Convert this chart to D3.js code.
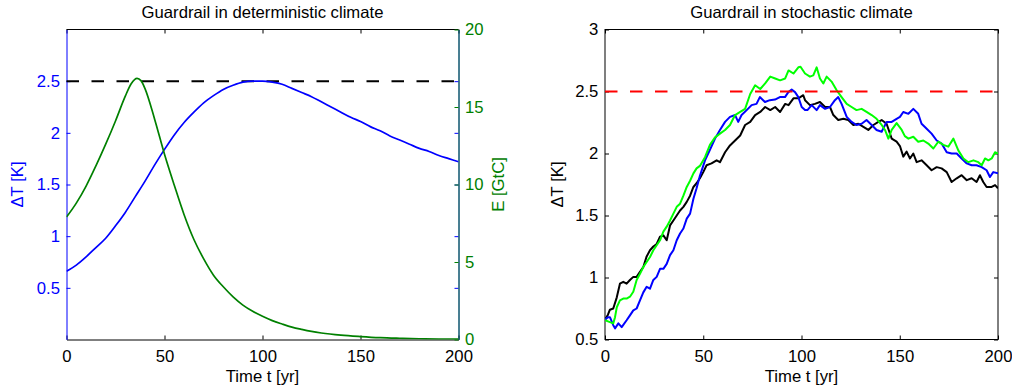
<!DOCTYPE html>
<html>
<head>
<meta charset="utf-8">
<script src="https://cdn.jsdelivr.net/npm/d3@7"></script>
<style>
  html, body { margin: 0; padding: 0; background: #fff; }
  svg { display: block; }
  text { font-family: "Liberation Sans", Arial, Helvetica, sans-serif; }
</style>
</head>
<body>
<svg id="chart" width="1012" height="391"></svg>
<script>
// ---------------- DATA ----------------
const xTicks = [0, 50, 100, 150, 200];
const dtTicksLeft = [0.5, 1, 1.5, 2, 2.5];
const eTicks = [0, 5, 10, 15, 20];
const dtTicksRight = [0.5, 1, 1.5, 2, 2.5, 3];
const guardrail = 2.5;

// Deterministic climate: temperature anomaly ΔT [K] vs time
const detTime = [0,5,10,15,20,25,30,35,40,45,50,55,60,65,70,75,80,85,90,95,100,105,110,115,120,125,130,135,140,145,150,155,160,165,170,175,180,185,190,195,200];
const detDT   = [0.66,0.72,0.80,0.89,0.98,1.10,1.23,1.38,1.53,1.69,1.84,1.98,2.10,2.20,2.29,2.36,2.42,2.46,2.49,2.50,2.50,2.49,2.47,2.43,2.39,2.35,2.30,2.25,2.20,2.15,2.11,2.06,2.02,1.97,1.93,1.89,1.85,1.82,1.78,1.75,1.72];

// Deterministic climate: emissions E [GtC] vs time
const emTime = [0,5,10,15,20,25,30,33,36,38,40,45,50,55,60,65,70,75,80,85,90,95,100,105,110,115,120,125,130,140,150,160,170,180,190,200];
const emE    = [7.9,8.8,9.9,11.2,12.6,14.1,15.7,16.5,16.85,16.7,16.2,14.2,11.95,9.95,8.05,6.45,5.2,4.15,3.4,2.75,2.22,1.82,1.5,1.22,1.0,0.8,0.65,0.52,0.42,0.28,0.19,0.12,0.08,0.05,0.03,0.02];

// Stochastic climate: three realisations [t, ΔT]
const stochBlack = [[0,0.66],[1.5,0.70],[2.5,0.74],[4.2,0.75],[6,0.84],[7.6,0.95],[9.3,0.965],[11,0.95],[12.7,0.98],[14.4,1.005],[16.1,1.005],[17.8,1.045],[19.5,1.085],[21.2,1.17],[22.9,1.22],[24.6,1.25],[26.3,1.27],[28,1.33],[29.7,1.34],[31.4,1.30],[33.1,1.42],[34.8,1.46],[36.5,1.50],[38.2,1.54],[39.9,1.57],[41.6,1.61],[43.3,1.66],[45,1.73],[46.6,1.76],[48.3,1.80],[50,1.85],[51.7,1.905],[54.2,1.92],[56.8,1.945],[58.5,1.93],[61.1,2.01],[63.6,2.065],[66.2,2.105],[68.8,2.145],[71.3,2.23],[73.9,2.255],[76.4,2.31],[79,2.335],[81.5,2.375],[84.1,2.35],[86.6,2.375],[89.1,2.335],[91.7,2.40],[93.4,2.39],[95.9,2.445],[98.4,2.445],[100.9,2.47],[101.8,2.43],[104.3,2.39],[106.8,2.40],[109.4,2.415],[112,2.375],[114.5,2.375],[116.2,2.31],[118.7,2.27],[121.3,2.28],[123.8,2.27],[126.4,2.23],[128.9,2.24],[131.5,2.215],[134,2.19],[136.6,2.23],[139.1,2.255],[140.8,2.27],[143.3,2.24],[145.9,2.12],[148.4,2.095],[150.1,2.06],[151.8,1.975],[153.5,2.015],[155.2,1.96],[156.9,2.0],[158.6,1.93],[161.1,1.945],[163.7,1.905],[166.2,1.865],[168.8,1.89],[171.3,1.88],[173.9,1.85],[176.4,1.77],[179,1.80],[181.5,1.825],[184.1,1.785],[186.6,1.80],[189.1,1.77],[190.8,1.825],[192.5,1.77],[194.2,1.73],[196.8,1.73],[198.5,1.745],[200,1.72]];

const stochBlue = [[0,0.66],[1.5,0.68],[2.5,0.68],[4.2,0.615],[5.1,0.59],[6.8,0.63],[8.5,0.60],[11,0.655],[12.7,0.695],[14.4,0.735],[16.1,0.75],[17.8,0.815],[19.5,0.88],[21.2,0.925],[22.9,0.91],[24.6,0.98],[26.3,1.005],[28,1.07],[29.7,1.07],[31.4,1.11],[33.1,1.18],[34.8,1.22],[36.5,1.30],[38.2,1.355],[39.9,1.395],[41.6,1.475],[43.3,1.515],[45,1.635],[46.6,1.72],[48.3,1.82],[50.9,1.945],[53.4,2.03],[56,2.12],[58.5,2.19],[61.1,2.255],[63.6,2.295],[66.2,2.31],[67.8,2.255],[69.5,2.31],[72.1,2.35],[74.6,2.39],[77.1,2.40],[78.8,2.455],[81.4,2.415],[83.9,2.43],[86.5,2.435],[89,2.455],[91.6,2.455],[93.3,2.495],[95,2.515],[96.7,2.495],[98.4,2.455],[100.1,2.375],[101.8,2.35],[103,2.35],[105.2,2.39],[107.7,2.35],[109.4,2.39],[112,2.36],[114.5,2.375],[117,2.43],[118.7,2.455],[120.4,2.40],[123,2.295],[125.5,2.255],[128,2.23],[130.6,2.24],[133.1,2.27],[135.7,2.23],[138.2,2.19],[140.8,2.175],[143.3,2.255],[145.9,2.255],[148.4,2.28],[150.1,2.295],[151.8,2.335],[154.4,2.32],[156.9,2.36],[159.4,2.32],[161.1,2.24],[163.7,2.20],[166.2,2.16],[168.8,2.105],[171.3,2.08],[173.9,2.01],[176.4,2.0],[179,2.0],[181.5,1.96],[184.1,1.92],[186.6,1.905],[189.1,1.905],[191.7,1.89],[194.2,1.865],[195.9,1.81],[197.6,1.85],[200,1.84]];

const stochGreen = [[0,0.655],[2.5,0.64],[4.2,0.63],[5.1,0.68],[6,0.76],[7.6,0.815],[9.3,0.83],[11,0.83],[12.7,0.845],[14.4,0.885],[16.1,0.98],[17.8,1.03],[19.5,1.085],[21.2,1.125],[22.9,1.165],[24.6,1.22],[26.3,1.26],[28,1.30],[29.7,1.37],[31.4,1.41],[33.1,1.46],[34.8,1.515],[36.5,1.57],[38.2,1.595],[39.9,1.66],[41.6,1.73],[43.3,1.78],[45,1.84],[46.6,1.88],[48.3,1.90],[50.9,1.97],[53.4,2.07],[56,2.13],[58.5,2.16],[61.1,2.19],[63.6,2.23],[66.2,2.31],[68.8,2.335],[71.3,2.36],[73.9,2.48],[76.4,2.55],[79,2.52],[81.5,2.565],[84.1,2.62],[86.6,2.605],[89.1,2.59],[91.7,2.605],[93.4,2.67],[95.9,2.645],[98.4,2.695],[99.5,2.70],[101.8,2.645],[104.3,2.62],[106,2.63],[107.7,2.695],[109.4,2.605],[111.1,2.565],[112.8,2.62],[115.3,2.58],[117.9,2.51],[120.4,2.455],[123,2.40],[125.5,2.375],[128,2.35],[130.6,2.36],[133.1,2.335],[135.7,2.31],[138.2,2.28],[140.8,2.23],[142.5,2.19],[144.2,2.12],[145.9,2.19],[148.4,2.245],[151,2.19],[152.6,2.14],[154.4,2.12],[156.9,2.135],[159.4,2.095],[162,2.105],[164.5,2.08],[167.1,2.04],[169.6,2.095],[172.2,2.07],[174.7,2.055],[177.3,2.12],[179.8,2.025],[182.4,1.96],[184.9,1.93],[187.5,1.945],[190,1.93],[191.7,1.905],[193.4,1.96],[195.1,1.945],[196.8,1.96],[198.5,2.01],[200,2.0]];

// ---------------- DRAWING ----------------
const svg = d3.select("#chart");
const FF = "Liberation Sans, Arial, Helvetica, sans-serif";
// Fit the font size so that the title spans the same width as in the reference (~242 px)
const probe = svg.append("text").attr("font-family", FF).attr("font-size", 16)
  .text("Guardrail in deterministic climate");
const probeLen = probe.node().getComputedTextLength() || 232;
probe.remove();
const FONT = Math.max(12, Math.min(20, 16 * 242 / probeLen));

const BLUE = "#0000ff", DKGREEN = "#008000", LTGREEN = "#00ff00", RED = "#ff0000";
const TICK = 4;

function panel(x0, x1, y0, y1) { return {x0, x1, y0, y1}; }
const L = panel(66.5, 458.5, 29.5, 339.5);
const R = panel(605, 998, 29.5, 339.5);

function styleText(sel, col) {
  sel.attr("font-size", FONT).attr("fill", col).attr("font-family", FF);
}

// ---- Left panel ----
const xL = d3.scaleLinear().domain([0, 200]).range([L.x0, L.x1]);
const yL = d3.scaleLinear().domain([0, 3]).range([L.y1, L.y0]);
const yE = d3.scaleLinear().domain([0, 20]).range([L.y1, L.y0]);

svg.append("clipPath").attr("id", "clipL").append("rect")
  .attr("x", L.x0).attr("y", L.y0).attr("width", L.x1 - L.x0).attr("height", L.y1 - L.y0);
svg.append("clipPath").attr("id", "clipR").append("rect")
  .attr("x", R.x0).attr("y", R.y0).attr("width", R.x1 - R.x0).attr("height", R.y1 - R.y0);

const gL = svg.append("g");

gL.append("line").attr("x1", L.x0).attr("x2", L.x1).attr("y1", L.y0).attr("y2", L.y0)
  .attr("stroke", "#000").attr("stroke-width", 1);

const axBL = d3.axisBottom(xL).tickValues(xTicks).tickSize(-TICK).tickPadding(11).tickSizeOuter(0);
const gBL = gL.append("g").attr("transform", `translate(0,${L.y1})`).call(axBL);
gBL.select(".domain").attr("stroke", "#000");
styleText(gBL.selectAll("text"), "#000");
const axTL = d3.axisTop(xL).tickValues(xTicks).tickSize(-TICK).tickFormat("").tickSizeOuter(0);
gL.append("g").attr("transform", `translate(0,${L.y0})`).call(axTL).select(".domain").remove();

const axLL = d3.axisLeft(yL).tickValues(dtTicksLeft).tickSize(-TICK).tickPadding(6.5).tickSizeOuter(0)
  .tickFormat(d3.format("~g"));
const gLL = gL.append("g").attr("transform", `translate(${L.x0},0)`).call(axLL);
gLL.select(".domain").attr("stroke", BLUE);
gLL.selectAll(".tick line").attr("stroke", BLUE);
styleText(gLL.selectAll("text"), BLUE);
const axLR = d3.axisRight(yL).tickValues(dtTicksLeft).tickSize(-TICK).tickFormat("").tickSizeOuter(0);
const gLR = gL.append("g").attr("transform", `translate(${L.x1},0)`).call(axLR);
gLR.select(".domain").attr("stroke", BLUE);
gLR.selectAll(".tick line").attr("stroke", BLUE);

const axE = d3.axisRight(yE).tickValues(eTicks).tickSize(-TICK).tickPadding(6.5).tickSizeOuter(0);
const gE = gL.append("g").attr("transform", `translate(${L.x1},0)`).call(axE);
gE.select(".domain").attr("stroke", DKGREEN).attr("stroke-opacity", 0.85);
gE.selectAll(".tick line").attr("stroke", DKGREEN);
styleText(gE.selectAll("text"), DKGREEN);

gL.append("line").attr("x1", L.x0).attr("x2", L.x1)
  .attr("y1", yL(guardrail)).attr("y2", yL(guardrail))
  .attr("stroke", "#000").attr("stroke-width", 2).attr("stroke-dasharray", "12.5,12.5");

const lineDT = d3.line().x((d, i) => xL(detTime[i])).y(d => yL(d)).curve(d3.curveMonotoneX);
gL.append("path").datum(detDT).attr("d", lineDT).attr("fill", "none")
  .attr("stroke", BLUE).attr("stroke-width", 1.7).attr("clip-path", "url(#clipL)");
const lineE = d3.line().x((d, i) => xL(emTime[i])).y(d => yE(d)).curve(d3.curveMonotoneX);
gL.append("path").datum(emE).attr("d", lineE).attr("fill", "none")
  .attr("stroke", DKGREEN).attr("stroke-width", 1.7).attr("clip-path", "url(#clipL)");

styleText(gL.append("text").attr("x", (L.x0 + L.x1) / 2).attr("y", 17.5).attr("text-anchor", "middle")
  .text("Guardrail in deterministic climate"), "#000");
styleText(gL.append("text").attr("x", (L.x0 + L.x1) / 2).attr("y", 381.5).attr("text-anchor", "middle")
  .text("Time t [yr]"), "#000");
styleText(gL.append("text").attr("transform", `translate(23,${(L.y0 + L.y1) / 2}) rotate(-90)`)
  .attr("text-anchor", "middle").text("ΔT [K]"), BLUE);
styleText(gL.append("text").attr("transform", `translate(504,${(L.y0 + L.y1) / 2}) rotate(-90)`)
  .attr("text-anchor", "middle").text("E [GtC]"), DKGREEN);

// ---- Right panel ----
const xR = d3.scaleLinear().domain([0, 200]).range([R.x0, R.x1]);
const yR = d3.scaleLinear().domain([0.5, 3]).range([R.y1, R.y0]);
const gR = svg.append("g");

gR.append("rect").attr("x", R.x0).attr("y", R.y0).attr("width", R.x1 - R.x0).attr("height", R.y1 - R.y0)
  .attr("fill", "none").attr("stroke", "#000").attr("stroke-width", 1);

const axBR = d3.axisBottom(xR).tickValues(xTicks).tickSize(-TICK).tickPadding(11).tickSizeOuter(0);
const gBR = gR.append("g").attr("transform", `translate(0,${R.y1})`).call(axBR);
gBR.select(".domain").remove();
styleText(gBR.selectAll("text"), "#000");
const axTR = d3.axisTop(xR).tickValues(xTicks).tickSize(-TICK).tickFormat("").tickSizeOuter(0);
gR.append("g").attr("transform", `translate(0,${R.y0})`).call(axTR).select(".domain").remove();

const axRL = d3.axisLeft(yR).tickValues(dtTicksRight).tickSize(-TICK).tickPadding(6.7).tickSizeOuter(0)
  .tickFormat(d3.format("~g"));
const gRL = gR.append("g").attr("transform", `translate(${R.x0},0)`).call(axRL);
gRL.select(".domain").remove();
styleText(gRL.selectAll("text"), "#000");
const axRR = d3.axisRight(yR).tickValues(dtTicksRight).tickSize(-TICK).tickFormat("").tickSizeOuter(0);
gR.append("g").attr("transform", `translate(${R.x1},0)`).call(axRR).select(".domain").remove();

const lineS = d3.line().x(d => xR(d[0])).y(d => yR(d[1]));
[[stochBlack, "#000"], [stochBlue, BLUE], [stochGreen, LTGREEN]].forEach(([data, col]) => {
  gR.append("path").datum(data).attr("d", lineS).attr("fill", "none")
    .attr("stroke", col).attr("stroke-width", 2).attr("stroke-linejoin", "round")
    .attr("clip-path", "url(#clipR)");
});

gR.append("line").attr("x1", R.x0).attr("x2", R.x1)
  .attr("y1", yR(guardrail)).attr("y2", yR(guardrail))
  .attr("stroke", RED).attr("stroke-width", 2).attr("stroke-dasharray", "12.5,12.5");

styleText(gR.append("text").attr("x", (R.x0 + R.x1) / 2).attr("y", 17.5).attr("text-anchor", "middle")
  .text("Guardrail in stochastic climate"), "#000");
styleText(gR.append("text").attr("x", (R.x0 + R.x1) / 2).attr("y", 381.5).attr("text-anchor", "middle")
  .text("Time t [yr]"), "#000");
styleText(gR.append("text").attr("transform", `translate(562.5,${(R.y0 + R.y1) / 2}) rotate(-90)`)
  .attr("text-anchor", "middle").text("ΔT [K]"), "#000");
</script>
</body>
</html>
